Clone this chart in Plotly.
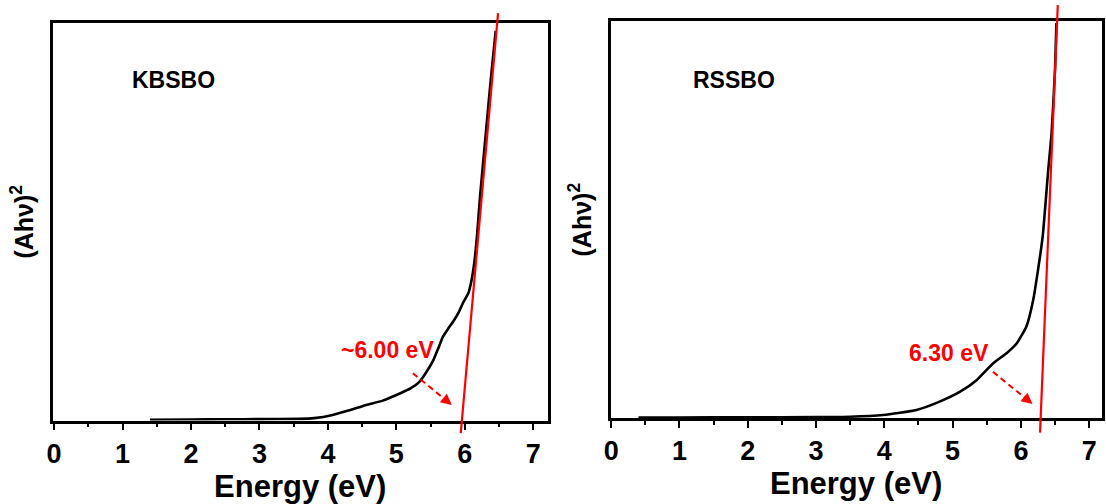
import plotly.graph_objects as go

# ---------------- data ----------------
kb_energy = [1.4, 2.0, 2.5, 3.0, 3.58, 3.8, 4.07, 4.3, 4.56, 4.8, 5.05, 5.2, 5.34,
             5.45, 5.54, 5.62, 5.68, 5.76, 5.83, 5.91, 5.97, 6.05, 6.10, 6.14,
             6.18, 6.22, 6.31, 6.38, 6.45]
kb_abs = [0.2, 0.25, 0.3, 0.35, 0.4, 0.6, 1.4, 2.5, 3.9, 5.0, 6.8, 8.0, 9.8,
          12.5, 15.2, 18.5, 21.1, 23.2, 24.9, 27.2, 29.5, 32.0, 35.5, 40.0,
          47.0, 56.0, 73.0, 86.0, 98.0]

rs_energy = [0.4, 1.0, 2.0, 3.0, 3.5, 3.98, 4.47, 4.81, 5.11, 5.35, 5.59, 5.79,
             5.94, 6.08, 6.18, 6.25, 6.32, 6.40, 6.45, 6.50, 6.52]
rs_abs = [0.2, 0.2, 0.25, 0.3, 0.4, 0.83, 2.1, 4.2, 6.7, 9.6, 13.8, 16.4,
          18.9, 23.1, 29.8, 37.3, 46.0, 62.5, 72.0, 88.0, 99.5]

kb_fit_energy = [5.94, 6.485]
kb_fit_abs = [-3.2, 102.5]
rs_fit_energy = [6.28, 6.54]
rs_fit_abs = [-3.6, 104.0]

kb_arrow_energy = [5.24, 5.81]
kb_arrow_abs = [11.9, 3.9]
rs_arrow_energy = [5.59, 6.17]
rs_arrow_abs = [11.7, 3.6]

panel_names = ["KBSBO", "RSSBO"]
name_pos_energy = [1.75, 1.80]
name_pos_abs = [85.7, 85.2]
gap_labels = ["~6.00 eV", "6.30 eV"]
gap_pos_energy = [4.87, 4.94]
gap_pos_abs = [17.7, 16.4]

x_tick_vals = [0, 1, 2, 3, 4, 5, 6, 7]
x_tick_text = ["0", "1", "2", "3", "4", "5", "6", "7"]
x_minor_vals = [0.5, 1.5, 2.5, 3.5, 4.5, 5.5, 6.5]

# ---------------- layout geometry ----------------
W, H = 1106, 504
FONT = "Arial, Liberation Sans, Helvetica, sans-serif"
RED = "#ff0000"

dom_x = [[52.7 / W, 547.7 / W], [610.7 / W, 1101.5 / W]]
dom_y = [[(H - 420.5) / H, (H - 23) / H], [(H - 418.3) / H, (H - 21) / H]]
rng_x = [[-0.02, 7.21], [-0.007, 7.18]]
rng_y = [[0, 100], [0, 100]]


def widen(rng, dom, newdom):
    s = (rng[1] - rng[0]) / (dom[1] - dom[0])
    return [rng[0] - (dom[0] - newdom[0]) * s, rng[1] + (newdom[1] - dom[1]) * s]


fig = go.Figure()

curves = [(kb_energy, kb_abs), (rs_energy, rs_abs)]
fits = [(kb_fit_energy, kb_fit_abs), (rs_fit_energy, rs_fit_abs)]
arrows = [(kb_arrow_energy, kb_arrow_abs), (rs_arrow_energy, rs_arrow_abs)]

annotations = []
for i in range(2):
    xa = "x" if i == 0 else "x2"
    ya = "y" if i == 0 else "y2"
    fig.add_trace(go.Scatter(x=curves[i][0], y=curves[i][1], mode="lines",
                             line=dict(color="black", width=2.6, shape="spline", smoothing=0.5),
                             xaxis=xa, yaxis=ya, showlegend=False, hoverinfo="skip"))
    ex, ey = arrows[i][0], arrows[i][1]
    fx = ex[0] + 0.82 * (ex[1] - ex[0])
    fy = ey[0] + 0.82 * (ey[1] - ey[0])
    fig.add_trace(go.Scatter(x=[ex[0], fx], y=[ey[0], fy], mode="lines",
                             line=dict(color=RED, width=2, dash="6px,4px"),
                             xaxis=xa, yaxis=ya, showlegend=False, hoverinfo="skip"))
    annotations.append(dict(x=ex[1], y=ey[1], ax=fx, ay=fy, xref=xa, yref=ya,
                            axref=xa, ayref=ya, text="", showarrow=True,
                            arrowhead=2, arrowsize=1.1, arrowwidth=2, arrowcolor=RED))
    annotations.append(dict(x=name_pos_energy[i], y=name_pos_abs[i], xref=xa, yref=ya,
                            text="<b>%s</b>" % panel_names[i], showarrow=False,
                            font=dict(family=FONT, size=23, color="black")))
    annotations.append(dict(x=gap_pos_energy[i], y=gap_pos_abs[i], xref=xa, yref=ya,
                            text="<b>%s</b>" % gap_labels[i], showarrow=False,
                            font=dict(family=FONT, size=23, color=RED)))

for i in range(2):
    newdx = [max(0.0, dom_x[i][0] - 0.03), min(1.0, dom_x[i][1] + 0.003)]
    newdy = [0.06, 1.0]
    xr = widen(rng_x[i], dom_x[i], newdx)
    yr = widen(rng_y[i], dom_y[i], newdy)
    n = 3 + i
    fig.add_trace(go.Scatter(x=fits[i][0], y=fits[i][1], mode="lines",
                             line=dict(color=RED, width=2.2),
                             xaxis=f"x{n}", yaxis=f"y{n}", showlegend=False, hoverinfo="skip"))
    fig.layout[f"xaxis{n}"] = dict(domain=newdx, range=xr, visible=False, anchor=f"y{n}",
                                   fixedrange=True)
    fig.layout[f"yaxis{n}"] = dict(domain=newdy, range=yr, visible=False, anchor=f"x{n}",
                                   fixedrange=True)

for i in range(2):
    sx = "" if i == 0 else "2"
    fig.layout[f"xaxis{sx}"] = dict(
        domain=dom_x[i], range=rng_x[i], anchor=f"y{sx}",
        showline=True, linecolor="black", linewidth=2.5, mirror=True,
        showgrid=False, zeroline=False,
        tickmode="array", tickvals=x_tick_vals, ticktext=["<b>%s</b>" % t for t in x_tick_text],
        ticks="outside", ticklen=7, tickwidth=2, tickcolor="black",
        minor=dict(tickmode="array", tickvals=x_minor_vals, ticks="outside", ticklen=4,
                   tickwidth=2, tickcolor="black", showgrid=False),
        tickfont=dict(family=FONT, size=27, color="black"),
        title=dict(text="<b>Energy (eV)</b>", standoff=0,
                   font=dict(family=FONT, size=31, color="black")),
        automargin=False, fixedrange=True)
    fig.layout[f"yaxis{sx}"] = dict(
        domain=dom_y[i], range=rng_y[i], anchor=f"x{sx}",
        showline=True, linecolor="black", linewidth=2.5, mirror=True,
        showgrid=False, zeroline=False, showticklabels=False, ticks="",
        title=dict(text="<b>(Ahν)<sup>2</sup></b>", standoff=10,
                   font=dict(family=FONT, size=25, color="black")),
        automargin=False, fixedrange=True)

fig.update_layout(width=W, height=H, margin=dict(l=0, r=0, t=0, b=0),
                  paper_bgcolor="white", plot_bgcolor="rgba(0,0,0,0)",
                  annotations=annotations, showlegend=False)

# remove the browser's default 8px page margin so the figure fills the window exactly
fig.write_html("out.html", config={"displayModeBar": False},
               post_script="document.body.style.margin='0px';")
